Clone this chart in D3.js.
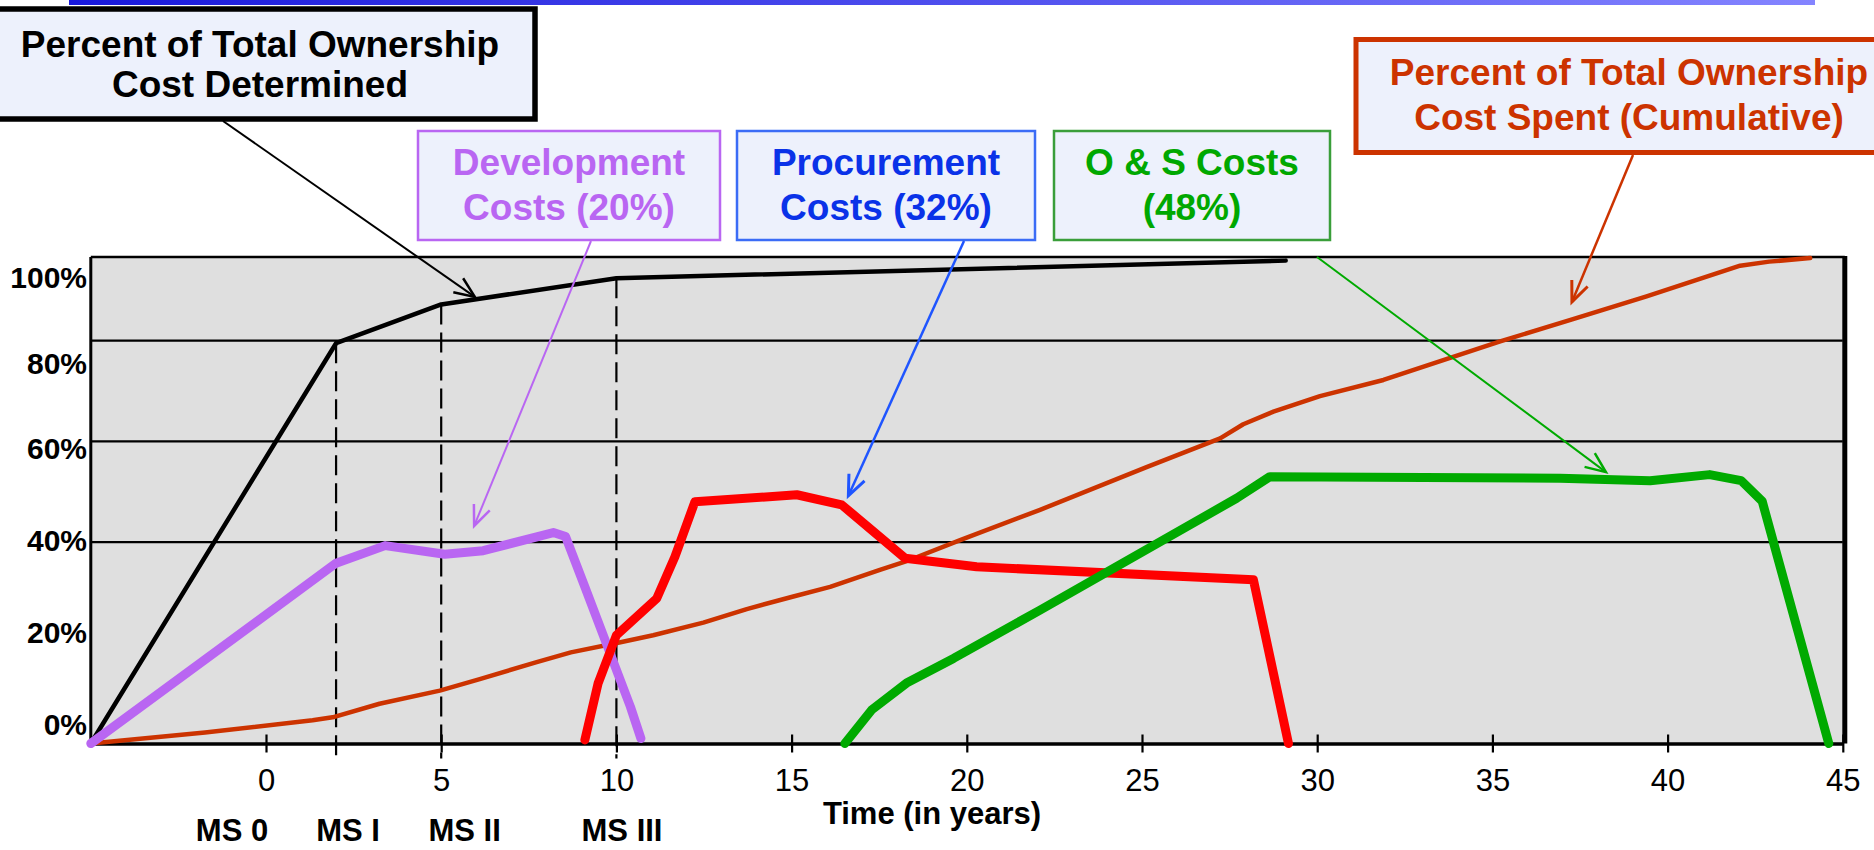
<!DOCTYPE html>
<html>
<head>
<meta charset="utf-8">
<script src="https://cdn.jsdelivr.net/npm/d3@7"></script>
<style>
  html, body { margin: 0; padding: 0; background: #ffffff; }
  svg { display: block; }
  text { font-family: "Liberation Sans", Arial, Helvetica, sans-serif; }
</style>
</head>
<body>
<svg id="chart" width="1874" height="850"></svg>
<script>
// ---- Data: life-cycle cost profiles, [year, percent] ----
const xTickValues = [0, 5, 10, 15, 20, 25, 30, 35, 40, 45];
const yTickLabels = [0, 20, 40, 60, 80, 100];
const gridValues = [40, 60, 80];

const milestoneNames = ["MS 0", "MS I", "MS II", "MS III"];
const milestoneLabelYears = [-0.97, 2.34, 5.67, 10.16];
const decisionYears = [2, 5, 10];          // MS I, MS II, MS III drop lines

const costDetermined = [[-5, 0], [2, 79.5], [5, 87.2], [10, 92.4], [29.1, 95.9]];

const developmentCosts = [[-5, 0], [2, 35.8], [3.4, 39.3], [5.1, 37.6], [6.2, 38.3],
  [8.2, 41.9], [8.55, 41.1], [9.1, 31.1], [10.4, 7.3], [10.7, 1]];

const procurementCosts = [[9.1, 0.7], [9.48, 12], [10.0, 21.5], [11.15, 28.8], [11.67, 37.1],
  [12.24, 48], [15.15, 49.4], [16.43, 47.4], [18.24, 36.8], [20.28, 35.1],
  [28.18, 32.5], [29.18, 0]];

const osCosts = [[16.52, 0], [17.29, 6.7], [18.28, 12], [19.62, 16.9], [22.09, 26.5],
  [27.7, 48.7], [28.65, 53], [36.93, 52.7], [39.5, 52.2], [41.2, 53.4],
  [42.1, 52.2], [42.7, 48.1], [44.6, 0]];

const costSpent = [[-5, 0], [-1.74, 2.2], [1.33, 4.6], [1.9, 5.2], [3.24, 7.9], [4.96, 10.5],
  [6.1, 12.8], [7.7, 16.1], [8.7, 18.1], [10.05, 20], [11.05, 21.5], [12.48, 24],
  [13.72, 26.7], [15.05, 29.2], [16.1, 31.1], [17.52, 34.5], [18.24, 36.1],
  [19.81, 40.4], [22.09, 46.4], [25.13, 54.9], [27.23, 60.6], [27.89, 63.4],
  [28.75, 65.9], [30.08, 69], [31.89, 72.2], [35.2, 79.8], [37.3, 84.3],
  [39.4, 88.8], [42.07, 94.9], [42.9, 95.7], [44.07, 96.4]];

// callout captions and the point each arrow lands on
const calloutText = [
  ["Percent of Total Ownership", "Cost Determined"],
  ["Development", "Costs (20%)"],
  ["Procurement", "Costs (32%)"],
  ["O & S Costs", "(48%)"],
  ["Percent of Total Ownership", "Cost Spent (Cumulative)"]
];
const calloutTargets = [[5.96, 88.7], [5.94, 43.2], [16.62, 49.2], [38.24, 53.9], [37.27, 87.7]];

// ---- Layout ----
const svg = d3.select("#chart");
const x = d3.scaleLinear().domain([-5, 45]).range([90.8, 1842.8]);
const y = d3.scaleLinear().domain([0, 96.6]).range([743.5, 257.1]);
// printed percent labels sit on their own ruler at the left edge
const yLabel = d3.scaleLinear().domain([0, 60, 100]).range([725, 449, 278]);

// title bar gradient
const defs = svg.append("defs");
const grad = defs.append("linearGradient").attr("id", "barGrad")
  .attr("x1", "0%").attr("x2", "100%").attr("y1", "0%").attr("y2", "0%");
grad.append("stop").attr("offset", "0%").attr("stop-color", "#1818dc");
grad.append("stop").attr("offset", "100%").attr("stop-color", "#8484ff");
svg.append("rect").attr("x", 69).attr("y", 0).attr("width", 1746).attr("height", 5)
  .attr("fill", "url(#barGrad)");

// plot background
const [px0, px1] = x.range();
const [py0, py1] = y.range();
svg.append("rect").attr("x", px0).attr("y", py1).attr("width", px1 - px0).attr("height", py0 - py1)
  .attr("fill", "#dfdfdf");

// horizontal rules
svg.append("g").selectAll("line").data(gridValues).join("line")
  .attr("x1", px0).attr("x2", px1)
  .attr("y1", d => y(d)).attr("y2", d => y(d))
  .attr("stroke", "#000").attr("stroke-width", 2.2);

// plot frame: top, left, heavy right edge
svg.append("line").attr("x1", px0).attr("x2", px1 + 2).attr("y1", py1).attr("y2", py1)
  .attr("stroke", "#000").attr("stroke-width", 2.5);
svg.append("line").attr("x1", px0).attr("x2", px0).attr("y1", py1).attr("y2", py0)
  .attr("stroke", "#000").attr("stroke-width", 3);
svg.append("line").attr("x1", px1 + 2).attr("x2", px1 + 2).attr("y1", py1 - 1).attr("y2", py0)
  .attr("stroke", "#000").attr("stroke-width", 5);

// milestone drop lines from the "determined" curve
const detAt = d3.scaleLinear().domain(costDetermined.map(d => d[0])).range(costDetermined.map(d => d[1]));
svg.append("g").selectAll("line").data(decisionYears).join("line")
  .attr("x1", d => x(d)).attr("x2", d => x(d))
  .attr("y1", d => y(detAt(d))).attr("y2", py0 + 15)
  .attr("stroke", "#000").attr("stroke-width", 2.2).attr("stroke-dasharray", "20,8");

// x axis
const xAxis = d3.axisBottom(x).tickValues(xTickValues).tickSizeInner(9).tickSizeOuter(0)
  .tickPadding(16).tickFormat(d3.format("d"));
const gx = svg.append("g").attr("transform", `translate(0,${py0})`).call(xAxis);
gx.select(".domain").attr("stroke", "#000").attr("stroke-width", 3.5);
gx.selectAll(".tick line").attr("y1", -9).attr("y2", 9).attr("stroke", "#000").attr("stroke-width", 2.2);
gx.selectAll(".tick text").attr("font-size", 31).attr("fill", "#000")
  .style("font-family", "'Liberation Sans', Arial, sans-serif");

// y labels
const yAxis = d3.axisLeft(yLabel).tickValues(yTickLabels).tickSize(0).tickPadding(0)
  .tickFormat(d => d + "%");
const gy = svg.append("g").attr("transform", "translate(87,0)").call(yAxis);
gy.select(".domain").remove();
gy.selectAll(".tick text").attr("font-size", 30).attr("font-weight", "bold").attr("fill", "#000")
  .style("font-family", "'Liberation Sans', Arial, sans-serif");

// axis title and milestone names
svg.append("text").attr("x", 932).attr("y", 824).attr("text-anchor", "middle")
  .attr("font-size", 31).attr("font-weight", "bold").text("Time (in years)");
svg.append("g").selectAll("text").data(milestoneNames).join("text")
  .attr("x", (d, i) => x(milestoneLabelYears[i])).attr("y", 841)
  .attr("text-anchor", "middle").attr("font-size", 31).attr("font-weight", "bold")
  .text(d => d);

// series
const line = d3.line().x(d => x(d[0])).y(d => y(d[1]));
const series = [
  { data: costSpent, color: "#cc3300", width: 4.5 },
  { data: costDetermined, color: "#000000", width: 4.5 },
  { data: developmentCosts, color: "#b966f2", width: 9 },
  { data: procurementCosts, color: "#ff0000", width: 9 },
  { data: osCosts, color: "#00aa00", width: 9 }
];
svg.append("g").selectAll("path").data(series).join("path")
  .attr("d", d => line(d.data))
  .attr("fill", "none").attr("stroke", d => d.color).attr("stroke-width", d => d.width)
  .attr("stroke-linejoin", "round").attr("stroke-linecap", "round");

// callout boxes with arrows
const callouts = [
  { box: [-15, 9, 535, 119], stroke: "#000000", sw: 5.5, text: "#000000", cx: 260, base: [57, 96.5],
    from: [223, 121], arrow: "#000000", aw: 2 },
  { box: [418, 131, 720, 240], stroke: "#b966f2", sw: 2.5, text: "#b966f2", cx: 569, base: [175, 220],
    from: [591, 241], arrow: "#b966f2", aw: 2 },
  { box: [737, 131, 1035, 240], stroke: "#3b6cf6", sw: 2.5, text: "#0a32e8", cx: 886, base: [175, 220],
    from: [964, 241], arrow: "#1f55ff", aw: 2.5 },
  { box: [1054, 131, 1330, 240], stroke: "#3a9e3a", sw: 2.5, text: "#00a800", cx: 1192, base: [175, 220],
    from: [1317, 257], arrow: "#00aa00", aw: 2 },
  { box: [1356, 39.5, 1902, 152.5], stroke: "#cc3300", sw: 5, text: "#cc3300", cx: 1629, base: [85, 130],
    from: [1633, 155], arrow: "#cc3300", aw: 2.5 }
];

const cg = svg.append("g");
callouts.forEach((c, i) => {
  const [bx0, by0, bx1, by1] = c.box;
  cg.append("rect").attr("x", bx0).attr("y", by0).attr("width", bx1 - bx0).attr("height", by1 - by0)
    .attr("fill", "#edf1fc").attr("stroke", c.stroke).attr("stroke-width", c.sw);
  calloutText[i].forEach((t, j) => {
    cg.append("text").attr("x", c.cx).attr("y", c.base[j]).attr("text-anchor", "middle")
      .attr("font-size", 37).attr("font-weight", "bold").attr("fill", c.text).text(t);
  });
  const tx = x(calloutTargets[i][0]), ty = y(calloutTargets[i][1]);
  const [fx, fy] = c.from;
  cg.append("line").attr("x1", fx).attr("y1", fy).attr("x2", tx).attr("y2", ty)
    .attr("stroke", c.arrow).attr("stroke-width", c.aw);
  const ang = Math.atan2(ty - fy, tx - fx);
  const L = 22, spread = 0.4;
  const head = [
    [tx - L * Math.cos(ang - spread), ty - L * Math.sin(ang - spread)],
    [tx, ty],
    [tx - L * Math.cos(ang + spread), ty - L * Math.sin(ang + spread)]
  ];
  cg.append("path").attr("d", d3.line()(head)).attr("fill", "none")
    .attr("stroke", c.arrow).attr("stroke-width", c.aw + 0.5).attr("stroke-linejoin", "miter");
});
</script>
</body>
</html>
